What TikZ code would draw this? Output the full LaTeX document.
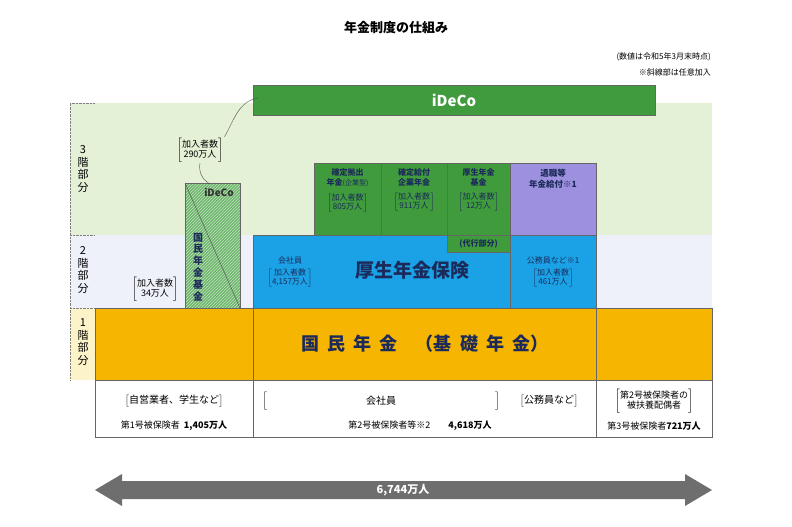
\documentclass[tikz,border=0pt]{standalone}
\usepackage{fontspec}
\setmainfont{Noto Sans CJK JP}
\usetikzlibrary{patterns}
\definecolor{bandthree}{HTML}{E5F1D6}
\definecolor{bandtwo}{HTML}{EEF1FA}
\definecolor{bandone}{HTML}{FDF3C8}
\definecolor{kiso}{HTML}{F6B500}
\definecolor{kosei}{HTML}{1BA2E6}
\definecolor{kigyo}{HTML}{3F9B3C}
\definecolor{hatch}{HTML}{6DB66B}
\definecolor{taishoku}{HTML}{9D90DE}
\definecolor{navy}{HTML}{1B2A5A}
\definecolor{arrowgray}{HTML}{6E6E6E}
\newcommand{\kakko}[1]{$\left[\begin{tabular}{@{}c@{}}#1\end{tabular}\right]$}
\newcommand{\tate}[1]{\begin{tabular}{@{}c@{}}#1\end{tabular}}
\tikzset{
  box/.style={draw=black!60, line width=0.5pt},
  small/.style={font=\fontsize{9}{10}\selectfont, align=center, inner sep=1pt},
  tiny/.style={font=\fontsize{8}{9}\selectfont, align=center, inner sep=1pt},
}
\begin{document}
\begin{tikzpicture}[x=1pt, y=-1pt]
        \useasboundingbox (0,0) rectangle (792,527);
        % floors
        \fill[bandthree] (70,103) rectangle (712,235);
        \fill[bandtwo] (70,235) rectangle (712,308);
        \fill[bandone] (70,308) rectangle (95,380);
        \draw[densely dotted, black!50] (70,380) -- (70,103) -- (95,103);
        \draw[densely dotted, black!50] (70,235) -- (95,235);
        \draw[densely dotted, black!50] (70,308) -- (95,308);
        \node[small, font=\fontsize{11}{12}\selectfont] (f3) at (83,170) {\tate{3\\階\\部\\分}};
        \node[small, font=\fontsize{11}{12}\selectfont] (f2) at (83,271) {\tate{2\\階\\部\\分}};
        \node[small, font=\fontsize{11}{12}\selectfont] (f1) at (83,343) {\tate{1\\階\\部\\分}};

        % title and notes
        \node[font=\fontsize{13}{14}\selectfont\bfseries] (title) at (396,28) {年金制度の仕組み};
        \node[tiny, anchor=east] (note1) at (712,57) {(数値は令和5年3月末時点)};
        \node[tiny, anchor=east] (note2) at (712,72) {※斜線部は任意加入};

        % 1st floor
        \fill[kiso, box] (95,308) rectangle (712,380);
        \draw[black!60] (253,308) -- (253,380) (596,308) -- (596,380);
        \node[font=\fontsize{18}{20}\selectfont\bfseries, text=navy] (kokumin) at (425,344) {国\ \ 民\ \ 年\ \ 金\quad（基\ \ 礎\ \ 年\ \ 金）};

        % 2nd floor
        \fill[kosei, box] (253,235) rectangle (596,308);
        \draw[black!60] (510,235) -- (510,308);
        \node[tiny, text=navy] (kaisha) at (290,272) {会社員\\[3pt]\kakko{加入者数\\4,157万人}};
        \node[font=\fontsize{19}{20}\selectfont\bfseries, text=navy] (kosei) at (412,270) {厚生年金保険};
        \node[tiny, text=navy] (komuin) at (553,272) {公務員など※1\\[3pt]\kakko{加入者数\\461万人}};

        % 3rd floor
        \fill[kigyo, box] (314,163) rectangle (381,235);
        \fill[kigyo, box] (381,163) rectangle (447,235);
        \fill[kigyo, box] (447,163) rectangle (510,235);
        \fill[kigyo, box] (447,235) rectangle (510,252);
        \fill[taishoku, box] (510,163) rectangle (596,235);
        \node[tiny, text=navy, anchor=north] (dc) at (347.5,167) {\textbf{確定拠出}\\[1pt]\textbf{年金}{\fontsize{7}{8}\selectfont(企業型)}\\[6pt]\kakko{加入者数\\805万人}};
        \node[tiny, text=navy, anchor=north] (db) at (414,167) {\textbf{確定給付}\\[1pt]\textbf{企業年金}\\[6pt]\kakko{加入者数\\911万人}};
        \node[tiny, text=navy, anchor=north] (kikin) at (478.5,167) {\textbf{厚生年金}\\[1pt]\textbf{基金}\\[6pt]\kakko{加入者数\\12万人}};
        \node[tiny, text=navy, font=\fontsize{8}{9}\selectfont\bfseries] (daiko) at (478.5,243.5) {(代行部分)};
        \node[tiny, text=navy, font=\fontsize{8.5}{10}\selectfont\bfseries, anchor=north] (taishoku) at (553,168) {退職等\\[1pt]年金給付※1};

        % iDeCo
        \fill[kigyo, box] (253,85) rectangle (655,115);
        \node[font=\fontsize{15}{16}\selectfont\bfseries, text=white] (ideco) at (454,100) {iDeCo};
        \fill[hatch, box] (185,183) rectangle (240,308);
        \fill[pattern=north east lines, pattern color=white!60!hatch] (185,183) rectangle (240,308);
        \draw[black!60] (185,183) rectangle (240,308);
        \draw[black!70] (185,183) -- (240,308);
        \node[font=\fontsize{10}{11}\selectfont\bfseries, text=black!80] (idecoS) at (219,192) {iDeCo};
        \node[small, font=\fontsize{10}{11}\selectfont\bfseries, text=navy, anchor=north] (kikinS) at (198,232) {\tate{国\\民\\年\\金\\基\\金}};
        \node[small] (n290) at (200,150) {\kakko{加入者数\\290万人}};
        \draw[black!70] (n290.north east) to[out=60, in=190] (258,98);
        \draw[black!70] (n290.south) to[out=-100, in=150] (210,184);
        \node[small] (n34) at (155,289) {\kakko{加入者数\\34万人}};

        % insured persons
        \draw[box] (95,380) rectangle (253,437);
        \draw[box] (253,380) rectangle (596,437);
        \draw[box] (596,380) rectangle (712,437);
        \node[small, font=\fontsize{10}{11}\selectfont] (jiei) at (174,401) {\kakko{自営業者、学生など}};
        \node[small] (first) at (174,426) {第1号被保険者\ \ \textbf{1,405万人}};
        \node[small, font=\fontsize{10}{11}\selectfont] (kaishaB) at (381,401) {$\Bigl[$\hspace{228pt}$\Bigr]$};
        \node[small, font=\fontsize{10}{11}\selectfont] (kaishaT) at (381,401) {会社員};
        \node[small, font=\fontsize{10}{11}\selectfont] (komuinB) at (549,401) {\kakko{公務員など}};
        \node[small] (second) at (420,426) {第2号被保険者等※2\qquad\textbf{4,618万人}};
        \node[small] (haigu) at (654,401) {\kakko{第2号被保険者の\\被扶養配偶者}};
        \node[small] (third) at (654,426) {第3号被保険者\textbf{721万人}};

        % total
        \coordinate (left) at (95,490);
        \coordinate (right) at (712,490);
        \fill[arrowgray] (left) -- (122,474) -- (122,481) -- (685,481) -- (685,474) -- (right) -- (685,506) -- (685,499) -- (122,499) -- (122,506) -- cycle;
        \node[font=\fontsize{11}{12}\selectfont\bfseries, text=white] (total) at (403,490) {6,744万人};
\end{tikzpicture}
\end{document}
